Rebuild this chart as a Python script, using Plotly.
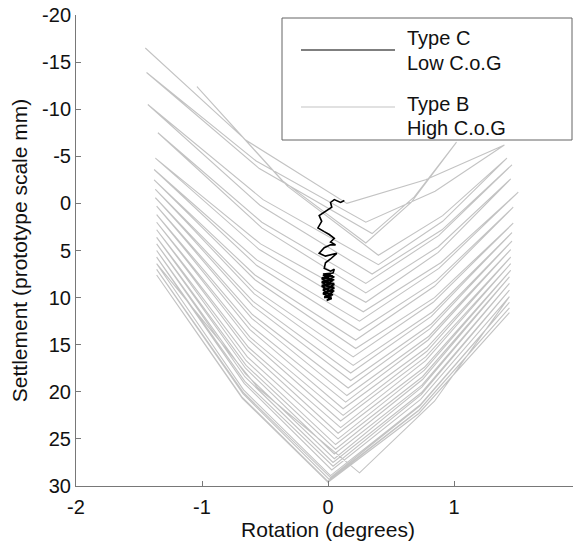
import plotly.graph_objects as go

# ---- Type B (High C.o.G) rotation / settlement record ----
typeB_rotation = [
    -1.45, -0.65, 0.15, 0.775, 1.40, 0.85, 0.30, -0.57,
    -1.44, -0.545, 0.35, 0.685, 1.02, 0.66, 0.30, -0.37,
    -1.04, -0.32, 0.40, 0.91, 1.42, 0.91, 0.40, -0.515,
    -1.43, -0.54, 0.35, 0.905, 1.46, 0.88, 0.30, -0.525,
    -1.35, -0.525, 0.30, 0.875, 1.45, 0.875, 0.30, -0.535,
    -1.37, -0.545, 0.28, 0.895, 1.51, 0.88, 0.25, -0.565,
    -1.38, -0.565, 0.25, 0.86, 1.47, 0.845, 0.22, -0.58,
    -1.38, -0.58, 0.22, 0.845, 1.47, 0.835, 0.20, -0.585,
    -1.37, -0.585, 0.20, 0.83, 1.46, 0.82, 0.18, -0.595,
    -1.37, -0.595, 0.18, 0.82, 1.46, 0.81, 0.16, -0.60,
    -1.36, -0.605, 0.15, 0.80, 1.45, 0.795, 0.14, -0.61,
    -1.36, -0.62, 0.12, 0.785, 1.45, 0.785, 0.12, -0.62,
    -1.36, -0.63, 0.10, 0.775, 1.45, 0.775, 0.10, -0.63,
    -1.36, -0.64, 0.08, 0.765, 1.45, 0.765, 0.08, -0.64,
    -1.36, -0.65, 0.06, 0.75, 1.44, 0.75, 0.06, -0.65,
    -1.36, -0.655, 0.05, 0.745, 1.44, 0.745, 0.05, -0.655,
    -1.36, -0.66, 0.04, 0.74, 1.44, 0.74, 0.04, -0.66,
    -1.36, -0.665, 0.03, 0.735, 1.44, 0.845, 0.25, -0.555,
    -1.36, -0.67, 0.02, 0.73, 1.44, 0.73, 0.02, -0.67,
    -1.36, -0.675, 0.01, 0.725, 1.44, 0.72, 0.00, -0.68,
    -1.36, -0.68, 0.00, 0.72, 1.44,
]
typeB_settlement = [
    -16.5, -6.7, 0.0, -2.5, -6.2, -1.3, 2.0, -4.5,
    -13.9, -3.7, 3.2, -0.7, -6.5, -0.1, 4.2, -2.5,
    -12.4, -1.8, 5.5, 1.3, -4.8, 1.9, 6.5, -0.4,
    -10.5, 0.2, 7.5, 2.8, -4.1, 3.4, 8.5, 2.0,
    -7.5, 2.6, 9.5, 4.6, -2.6, 5.2, 10.5, 4.3,
    -4.8, 4.9, 11.5, 6.3, -1.2, 6.9, 12.5, 6.0,
    -3.6, 6.6, 13.5, 8.2, 0.4, 8.8, 14.5, 7.6,
    -2.5, 8.1, 15.4, 10.0, 2.1, 10.5, 16.3, 9.1,
    -1.5, 9.6, 17.2, 11.5, 3.1, 12.0, 18.0, 10.4,
    -0.6, 10.9, 18.8, 12.8, 4.0, 13.3, 19.6, 11.8,
    0.3, 12.2, 20.4, 14.1, 4.9, 14.5, 21.1, 13.0,
    1.2, 13.4, 21.8, 15.3, 5.7, 15.7, 22.5, 14.2,
    2.0, 14.5, 23.1, 16.3, 6.4, 16.7, 23.8, 15.3,
    2.8, 15.6, 24.4, 17.4, 7.1, 17.7, 25.0, 16.3,
    3.6, 16.7, 25.6, 18.4, 7.8, 18.7, 26.1, 17.2,
    4.3, 17.5, 26.6, 19.3, 8.5, 19.5, 27.1, 18.1,
    5.0, 18.4, 27.5, 20.1, 9.2, 20.3, 27.9, 18.9,
    5.7, 19.1, 28.3, 20.8, 9.9, 21.0, 28.6, 19.6,
    6.4, 19.8, 28.9, 21.4, 10.5, 21.5, 29.1, 20.1,
    7.0, 20.2, 29.3, 21.9, 11.1, 22.0, 29.5, 20.6,
    7.6, 20.7, 29.6, 22.3, 11.6,
]

# ---- Type C (Low C.o.G) record ----
typeC_rotation = [
    0.13, 0.10, 0.05, 0.02, 0.03, -0.03, -0.07, -0.05, -0.08, -0.03,
    0.01, 0.05, 0.02, 0.06, 0.02, -0.03, -0.07, -0.02, 0.03, 0.07,
    0.02, -0.02, -0.03, 0.02, 0.05, 0.04, -0.04, 0.04, -0.05, 0.05,
    -0.05, 0.05, -0.05, 0.05, -0.04, 0.05, -0.04, 0.04, -0.03, 0.03,
    -0.01, 0.02, -0.04, 0.05, -0.05, 0.05, -0.04, 0.04, -0.05, 0.04,
    -0.03, 0.03, -0.04, 0.05, -0.05, 0.03,
]
typeC_settlement = [
    -0.3, -0.1, -0.4, -0.1, 0.4, 0.9, 1.3, 1.9, 2.6, 3.0,
    3.3, 3.7, 4.1, 4.4, 4.4, 4.7, 5.3, 5.6, 5.4, 5.3,
    5.9, 6.3, 6.9, 7.2, 7.0, 7.4, 7.5, 7.7, 7.9, 8.1,
    8.3, 8.5, 8.7, 8.9, 9.1, 9.3, 9.5, 9.7, 9.9, 10.1,
    10.3, 10.0, 9.6, 9.0, 8.4, 7.8, 7.6, 8.2, 8.8, 9.4,
    10.0, 9.8, 9.2, 8.6, 8.0, 7.4,
]

x_ticks = [-2, -1, 0, 1, 2]
y_ticks = [-20, -15, -10, -5, 0, 5, 10, 15, 20, 25, 30]

legend_labels = [("Type C", "Low C.o.G"), ("Type B", "High C.o.G")]

FONT = "Liberation Sans, Arial, sans-serif"
GRAY_LINE = "rgb(195,195,195)"
AXIS_COL = "rgb(120,120,120)"

fig = go.Figure()
fig.add_trace(go.Scatter(x=typeB_rotation, y=typeB_settlement, mode="lines",
                         line=dict(color=GRAY_LINE, width=1.1),
                         name="Type B High C.o.G", showlegend=False))
fig.add_trace(go.Scatter(x=typeC_rotation, y=typeC_settlement, mode="lines",
                         line=dict(color="black", width=1.6),
                         name="Type C Low C.o.G", showlegend=False))

# The page body has an 8px margin, so the figure is sized/offset to compensate.
OFF = 8
FW, FH = 581 - OFF, 548 - OFF
L, T, W, H = 76 - OFF, 15 - OFF, 504, 471


def px(xp):
    return (xp - OFF - L) / W


def py(yp):
    return 1 - (yp - OFF - T) / H


shapes = [
    dict(type="rect", xref="paper", yref="paper", x0=px(282), x1=px(572),
         y0=py(140), y1=py(18), line=dict(color="rgb(100,100,100)", width=1),
         fillcolor="white", layer="above"),
    dict(type="line", xref="paper", yref="paper", x0=px(301), x1=px(395),
         y0=py(50), y1=py(50), line=dict(color="black", width=1.2), layer="above"),
    dict(type="line", xref="paper", yref="paper", x0=px(301), x1=px(395),
         y0=py(107), y1=py(107), line=dict(color=GRAY_LINE, width=1.2), layer="above"),
]
annots = []
ypos = [(38, 63), (104, 128)]
for (a, b), (y1, y2) in zip(legend_labels, ypos):
    for txt, yy in ((a, y1), (b, y2)):
        annots.append(dict(text=txt, xref="paper", yref="paper", x=px(405), y=py(yy),
                           xanchor="left", yanchor="middle", showarrow=False,
                           font=dict(family=FONT, size=20, color="#111")))

fig.update_layout(
    width=FW, height=FH,
    margin=dict(l=L, r=FW - L - W, t=T, b=FH - T - H, autoexpand=False),
    paper_bgcolor="white", plot_bgcolor="white",
    font=dict(family=FONT, size=20, color="#111"),
    shapes=shapes, annotations=annots,
    xaxis=dict(range=[-2, 2], tickvals=x_ticks, ticktext=[str(v) for v in x_ticks],
               ticks="inside", ticklen=5, tickcolor=AXIS_COL, showline=True,
               linecolor=AXIS_COL, linewidth=1, showgrid=False, zeroline=False,
               ticklabelstandoff=3, ticklabeloverflow="allow",
               title=dict(text="Rotation (degrees)", standoff=0,
                          font=dict(family=FONT, size=21, color="#111")),
               tickfont=dict(family=FONT, size=20, color="#111"), automargin=False),
    yaxis=dict(range=[30, -20], tickvals=y_ticks, ticktext=[str(v) for v in y_ticks],
               ticks="inside", ticklen=5, tickcolor=AXIS_COL, showline=True,
               linecolor=AXIS_COL, linewidth=1, showgrid=False, zeroline=False,
               ticklabeloverflow="allow",
               title=dict(text="Settlement (prototype scale mm)", standoff=9,
                          font=dict(family=FONT, size=21, color="#111")),
               tickfont=dict(family=FONT, size=20, color="#111"), automargin=False),
)

fig.write_html("out.html")
